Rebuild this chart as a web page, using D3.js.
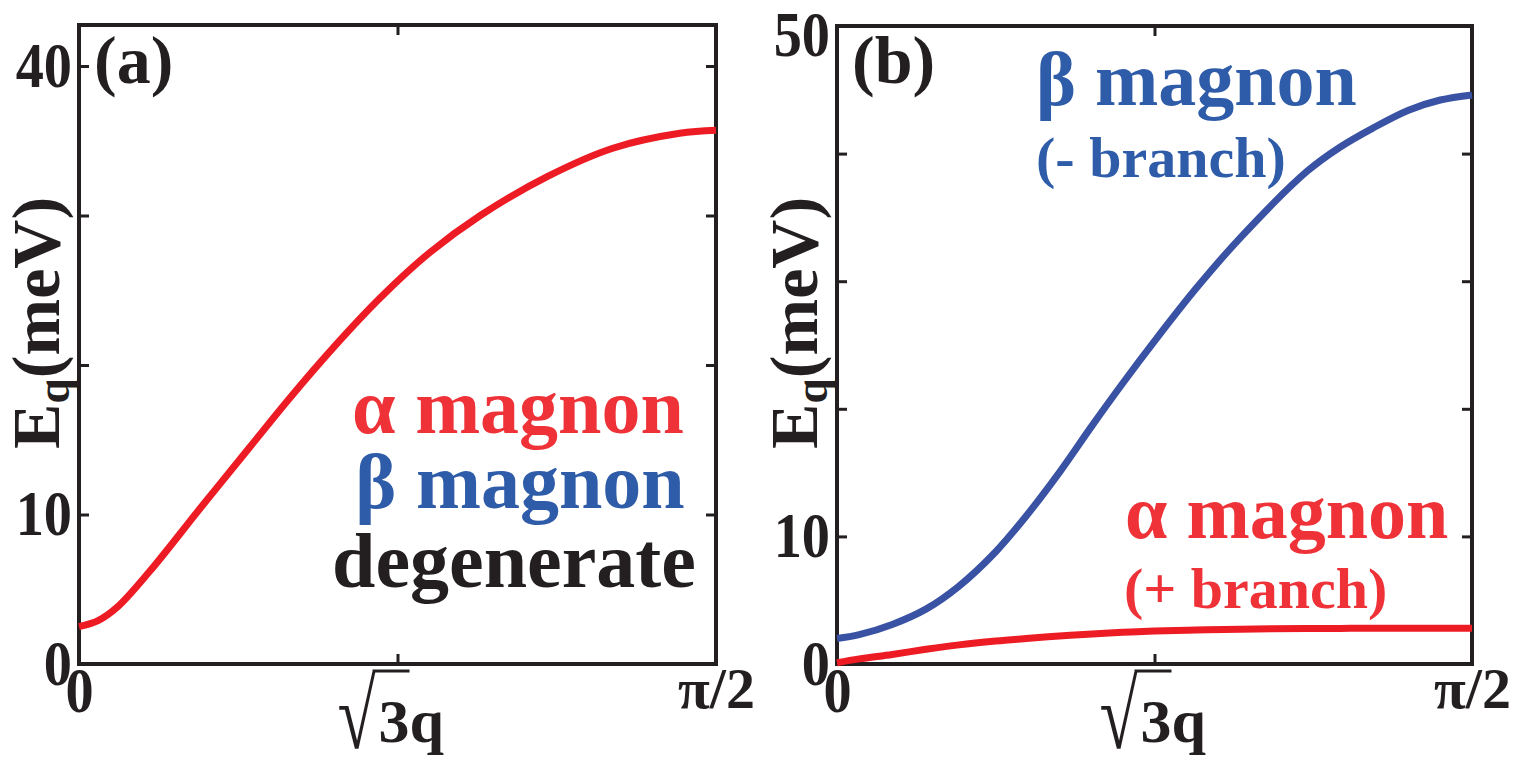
<!DOCTYPE html>
<html>
<head>
<meta charset="utf-8">
<script src="https://cdn.jsdelivr.net/npm/d3@7/dist/d3.min.js"></script>
<style>
  html, body { margin: 0; padding: 0; background: #fff; }
  svg { display: block; }
  text { font-family: "Liberation Serif", "Tinos", "Times New Roman", "DejaVu Serif", serif; font-weight: bold; }
</style>
</head>
<body>
<svg id="chart" width="1517" height="772"></svg>
<script>
// ---- data ----
// q is given as a fraction of pi/2
var qFracA  = [0, 0.03, 0.06, 0.111, 0.19, 0.268, 0.331, 0.40, 0.473, 0.55, 0.63, 0.735, 0.838, 0.943, 1];
var alphaA  = [2.5, 2.9, 3.8, 6.2, 10.4, 14.5, 17.8, 21.2, 24.5, 27.5, 30.0, 32.6, 34.5, 35.5, 35.7];

var qFracB  = [0, 0.035, 0.087, 0.14, 0.192, 0.25, 0.298, 0.35, 0.402, 0.45, 0.5, 0.565, 0.635, 0.74, 0.792, 0.844, 0.9, 0.95, 1];
var betaB   = [2.0, 2.3, 3.1, 4.3, 6.1, 8.8, 11.6, 15.0, 18.7, 22.0, 25.3, 29.4, 33.4, 38.6, 40.5, 42.0, 43.4, 44.2, 44.6];
var alphaB  = [0.1, 0.4, 0.75, 1.15, 1.5, 1.8, 2.0, 2.2, 2.36, 2.48, 2.58, 2.67, 2.73, 2.78, 2.79, 2.8, 2.8, 2.8, 2.8];

var xTicks       = [0, Math.PI / 4, Math.PI / 2];
var xTickLabels  = ['0', '', '\u03c0/2'];
var yTicksA      = [0, 10, 20, 30, 40];
var yTickLabelsA = ['0', '10', '', '', '40'];
var yTicksB      = [0, 10, 20, 30, 40, 50];
var yTickLabelsB = ['0', '10', '', '', '', '50'];

// ---- styles ----
var INK = '#231f20';
var RED_LINE = '#ed1c24';
var RED_TEXT = '#ee3238';
var BLUE_LINE = '#3a52a3';
var BLUE_TEXT = '#2e5ca8';
var SQUEEZE = 0.88;   // tick digits in the figure are a bit narrow

var svg = d3.select('#chart');

function toPoints(fracs, vals) {
  return fracs.map(function (f, i) { return [f * Math.PI / 2, vals[i]]; });
}

function drawPanel(cfg) {
  var x = d3.scaleLinear().domain([0, Math.PI / 2]).range([cfg.left, cfg.right]);
  var y = d3.scaleLinear().domain([0, cfg.yMax]).range([cfg.bottom, cfg.bottom - cfg.yMax * cfg.pxPerUnit]);
  var g = svg.append('g');

  // ticks (all pointing inward)
  var bottom = g.append('g').attr('transform', 'translate(0,' + cfg.bottom + ')')
    .call(d3.axisBottom(x).tickValues(xTicks).tickSize(-10).tickPadding(3)
      .tickFormat(function (d, i) { return xTickLabels[i]; }));
  g.append('g').attr('transform', 'translate(0,' + cfg.top + ')')
    .call(d3.axisTop(x).tickValues([xTicks[1]]).tickSize(-10).tickFormat(''));
  var left = g.append('g').attr('transform', 'translate(' + cfg.left + ',0)')
    .call(d3.axisLeft(y).tickValues(cfg.yTicks).tickSize(-10).tickPadding(7)
      .tickFormat(function (d, i) { return cfg.yLabels[i]; }));
  g.append('g').attr('transform', 'translate(' + cfg.right + ',0)')
    .call(d3.axisRight(y).tickValues(cfg.yTicks).tickSize(-10).tickFormat(''));

  g.selectAll('.domain').remove();
  g.selectAll('[font-family]').attr('font-family', null);
  g.selectAll('.tick line').attr('stroke', INK).attr('stroke-width', 3);
  g.selectAll('.tick text').attr('fill', INK);

  left.selectAll('.tick text')
    .attr('font-size', 64)
    .attr('font-weight', function (d) { return d === 10 ? 'normal' : 'bold'; })
    .attr('transform', 'scale(' + SQUEEZE + ',1)')
    .attr('x', -7 / SQUEEZE)
    .attr('y', function (d) { return d === cfg.yMax ? 9 : 0; });
  bottom.selectAll('.tick text')
    .attr('font-size', function (d, i) { return i === 2 ? 58 : 64; })
    .attr('transform', function (d, i) { return i === 2 ? null : 'scale(' + SQUEEZE + ',1)'; });

  // frame
  g.append('rect')
    .attr('x', cfg.left).attr('y', cfg.top)
    .attr('width', cfg.right - cfg.left).attr('height', cfg.bottom - cfg.top)
    .attr('fill', 'none').attr('stroke', INK).attr('stroke-width', 4);

  // curves
  var line = d3.line()
    .x(function (d) { return x(d[0]); })
    .y(function (d) { return y(d[1]); })
    .curve(d3.curveCatmullRom.alpha(0.5));
  cfg.series.forEach(function (s) {
    g.append('path')
      .attr('d', line(s.points))
      .attr('fill', 'none')
      .attr('stroke', s.color)
      .attr('stroke-width', 7);
  });

  // y axis title: E_q(meV)
  var yt = g.append('text')
    .attr('transform', 'translate(' + (cfg.left - 20) + ',323) rotate(-90)')
    .attr('text-anchor', 'middle')
    .attr('font-size', 68)
    .attr('fill', INK);
  yt.append('tspan').text('E');
  yt.append('tspan').attr('font-size', 46).attr('dy', 10).text('q');
  yt.append('tspan').attr('dy', -10).text('(meV)');

  // x axis title: sqrt(3) q, radical with its overbar
  var x0 = x(Math.PI / 4) - cfg.titleShift;
  var base = cfg.xTitleY;
  g.append('text')
    .attr('x', x0).attr('y', base)
    .attr('font-size', 62).attr('fill', INK)
    .text('3q');
  g.append('text')
    .attr('transform', 'translate(' + (x0 - 3) + ',' + (base + 6) + ') scale(0.72,1)')
    .attr('text-anchor', 'end')
    .attr('font-size', 96).attr('font-weight', 'normal').attr('fill', INK)
    .text('\u221a');
  g.append('line')
    .attr('x1', x0 - 6).attr('x2', x0 + 31)
    .attr('y1', base - 71).attr('y2', base - 71)
    .attr('stroke', INK).attr('stroke-width', 3);

  // panel tag
  g.append('text')
    .attr('x', cfg.left + 15).attr('y', 83)
    .attr('font-size', 68).attr('fill', INK)
    .text(cfg.tag);

  cfg.notes.forEach(function (n) {
    g.append('text')
      .attr('x', n.x).attr('y', n.y)
      .attr('text-anchor', n.anchor || 'start')
      .attr('font-size', n.size)
      .attr('fill', n.color)
      .text(n.text);
  });
}

drawPanel({
  left: 79, right: 716, top: 25, bottom: 664,
  yMax: 42.75, pxPerUnit: 14.95,
  yTicks: yTicksA, yLabels: yTickLabelsA,
  xTitleY: 742, titleShift: 19, tag: '(a)',
  series: [{ points: toPoints(qFracA, alphaA), color: RED_LINE }],
  notes: [
    { text: '\u03b1 magnon', x: 518, y: 433, size: 78, color: RED_TEXT, anchor: 'middle' },
    { text: '\u03b2 magnon', x: 520, y: 508, size: 78, color: BLUE_TEXT, anchor: 'middle' },
    { text: 'degenerate', x: 514, y: 587, size: 78, color: INK, anchor: 'middle' }
  ]
});

drawPanel({
  left: 837, right: 1472, top: 26, bottom: 664,
  yMax: 50, pxPerUnit: 12.76,
  yTicks: yTicksB, yLabels: yTickLabelsB,
  xTitleY: 742, titleShift: 14, tag: '(b)',
  series: [
    { points: toPoints(qFracB, betaB), color: BLUE_LINE },
    { points: toPoints(qFracB, alphaB), color: RED_LINE }
  ],
  notes: [
    { text: '\u03b2 magnon', x: 1036, y: 105, size: 76, color: BLUE_TEXT },
    { text: '(- branch)', x: 1036, y: 177, size: 58, color: BLUE_TEXT },
    { text: '\u03b1 magnon', x: 1125, y: 538, size: 76, color: RED_TEXT },
    { text: '(+ branch)', x: 1124, y: 608, size: 58, color: RED_TEXT }
  ]
});
</script>
</body>
</html>
